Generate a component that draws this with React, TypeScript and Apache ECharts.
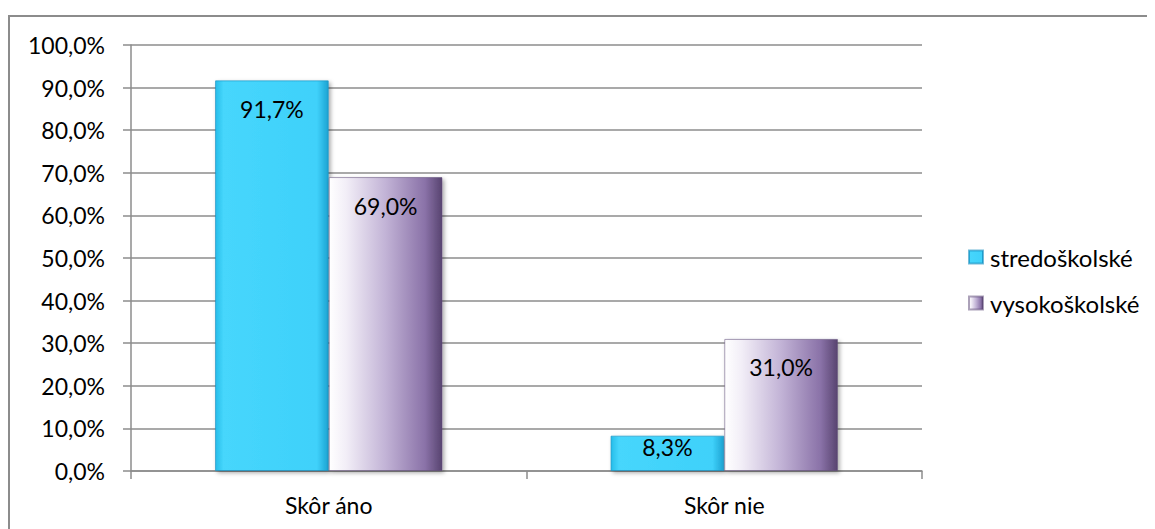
import React, { useEffect, useRef } from "react";
import * as echarts from "echarts";

const categories = ["Skôr áno", "Skôr nie"];
const seriesNames = ["stredoškolské", "vysokoškolské"];
const stredoskolske = [91.7, 8.3];
const vysokoskolske = [69.0, 31.0];
const yTicks = { min: 0, max: 100, interval: 10 };

const FONT = "Lato";
const fmt = (v: number) => v.toFixed(1).replace(".", ",") + "%";

const blue = new echarts.graphic.LinearGradient(0, 0, 1, 0, [
  { offset: 0, color: "#26bde9" },
  { offset: 0.07, color: "#46d6fc" },
  { offset: 0.9, color: "#3fd1fa" },
  { offset: 1, color: "#1da3d2" },
]);
const purple = new echarts.graphic.LinearGradient(0, 0, 1, 0, [
  { offset: 0, color: "#ffffff" },
  { offset: 0.15, color: "#f2eef7" },
  { offset: 0.5, color: "#c2b3d6" },
  { offset: 0.85, color: "#8a72a8" },
  { offset: 1, color: "#584470" },
]);

const mkData = (vals: number[]) =>
  vals.map((v) => ({
    value: v,
    label: { distance: v < 15 ? 0 : 17 },
  }));

export default function App() {
  const ref = useRef<HTMLDivElement>(null);
  useEffect(() => {
    document.body.style.overflow = "hidden";
    const chart = echarts.init(ref.current!, null, { renderer: "svg" });
    const labelStyle = {
      show: true,
      position: "insideTop",
      fontFamily: FONT,
      fontSize: 23,
      color: "#000",
      formatter: (p: any) => fmt(p.value),
    };
    chart.setOption({
      animation: false,
      backgroundColor: "#fff",
      textStyle: { fontFamily: FONT },
      graphic: [
        { type: "line", shape: { x1: 1, y1: 8, x2: 1, y2: 530 }, style: { stroke: "#8c8c8c", lineWidth: 2 } },
        { type: "line", shape: { x1: 0, y1: 8, x2: 1147, y2: 8 }, style: { stroke: "#8c8c8c", lineWidth: 2 } },
      ],
      grid: { left: 123, top: 37, right: 233, bottom: 58, containLabel: false },
      legend: {
        orient: "vertical",
        left: 955,
        top: 232,
        icon: "rect",
        itemWidth: 14,
        itemHeight: 13,
        itemGap: 22,
        textStyle: { fontFamily: FONT, fontSize: 24, color: "#000", padding: [0, 0, 0, 2] },
        data: seriesNames,
      },
      xAxis: {
        type: "category",
        data: categories,
        axisLine: { lineStyle: { color: "#8c8c8c", width: 1.5 } },
        axisTick: { show: true, length: 8, lineStyle: { color: "#8c8c8c", width: 1.5 } },
        axisLabel: { fontFamily: FONT, fontSize: 23, color: "#000", margin: 22 },
      },
      yAxis: {
        type: "value",
        min: yTicks.min,
        max: yTicks.max,
        interval: yTicks.interval,
        axisLine: { show: true, lineStyle: { color: "#8c8c8c", width: 1.5 } },
        axisTick: { show: true, length: 8, lineStyle: { color: "#8c8c8c", width: 1.5 } },
        splitLine: { lineStyle: { color: "#8c8c8c", width: 1.5 } },
        axisLabel: { fontFamily: FONT, fontSize: 23, color: "#000", margin: 26, formatter: (v: number) => fmt(v) },
      },
      series: [
        {
          name: seriesNames[0],
          type: "bar",
          data: mkData(stredoskolske),
          barGap: "0%",
          barCategoryGap: "42.5%",
          itemStyle: {
            color: blue,
            borderColor: "rgba(20,140,190,0.6)",
            borderWidth: 1,
            shadowColor: "rgba(0,0,0,0.35)",
            shadowBlur: 4,
            shadowOffsetX: 2,
            shadowOffsetY: 2,
          },
          label: labelStyle,
        },
        {
          name: seriesNames[1],
          type: "bar",
          data: mkData(vysokoskolske),
          barGap: "0%",
          barCategoryGap: "42.5%",
          itemStyle: {
            color: purple,
            borderColor: "rgba(90,70,115,0.5)",
            borderWidth: 1,
            shadowColor: "rgba(0,0,0,0.35)",
            shadowBlur: 4,
            shadowOffsetX: 2,
            shadowOffsetY: 2,
          },
          label: labelStyle,
        },
      ],
    });
    return () => chart.dispose();
  }, []);
  return <div ref={ref} style={{ width: 1147, height: 521 }} />;
}
